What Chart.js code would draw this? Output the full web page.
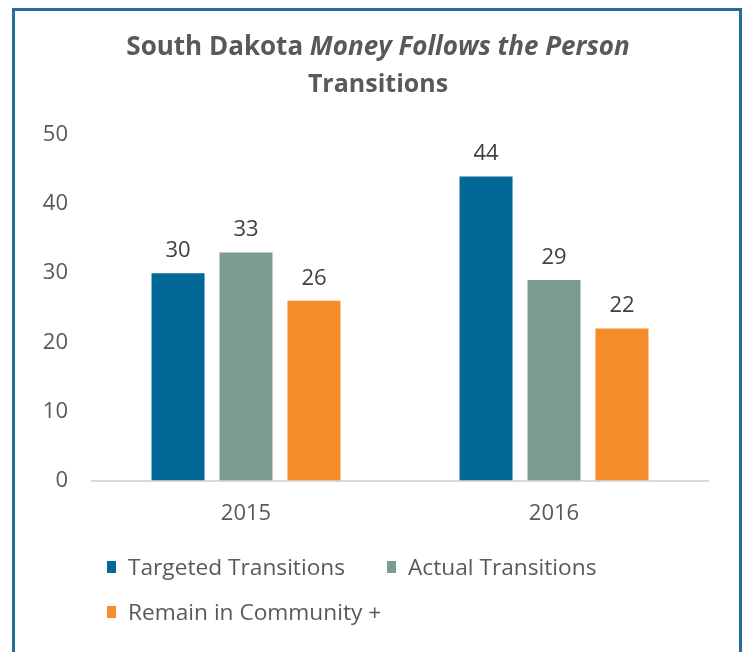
<!DOCTYPE html>
<html>
<head>
<meta charset="utf-8">
<script src="https://cdn.jsdelivr.net/npm/chart.js@4.4.0/dist/chart.umd.min.js"></script>
<style>
  html, body { margin: 0; padding: 0; background: #fff; overflow: hidden; }
  #wrap { position: relative; width: 746px; height: 652px; }
  #frame {
    position: absolute; left: 12px; top: 8px; width: 724px; height: 700px;
    border: 3px solid #236e9c; border-bottom: none;
  }
  canvas { position: absolute; left: 0; top: 0; }
  #legend { position: absolute; left: 0; top: 0; font-family: "Open Sans", sans-serif; font-size: 22.7px; color: #595959; }
  .item { position: absolute; white-space: nowrap; line-height: 26px; }
  .item span.box { position: absolute; left: 0; top: 7px; width: 9px; height: 12px; }
  .item span.txt { position: absolute; left: 21px; top: 0; }
</style>
</head>
<body>
<div id="wrap">
  <div id="frame"></div>
  <canvas id="chart" width="746" height="652"></canvas>
  <div id="legend"></div>
</div>
<script>
// data
const years = ['2015', '2016'];
const seriesNames = ['Targeted Transitions', 'Actual Transitions', 'Remain in Community +'];
const targeted = [30, 44];
const actual = [33, 29];
const remain = [26, 22];
const colors = ['#026897', '#7c9c91', '#f68d2b'];

const FONT = '"Open Sans", sans-serif';

// title with a mixed bold / bold-italic line
const titlePlugin = {
  id: 'mixedTitle',
  afterDraw(chart) {
    const ctx = chart.ctx;
    ctx.save();
    ctx.fillStyle = '#595959';
    ctx.textBaseline = 'middle';
    const parts = [
      ['bold 26px ' + FONT, 'South Dakota '],
      ['italic bold 26px ' + FONT, 'Money Follows the Person']
    ];
    let total = 0;
    parts.forEach(p => { ctx.font = p[0]; total += ctx.measureText(p[1]).width; });
    let x = 378 - total / 2;
    parts.forEach(p => {
      ctx.font = p[0];
      ctx.textAlign = 'left';
      ctx.fillText(p[1], x, 48);
      x += ctx.measureText(p[1]).width;
    });
    ctx.font = 'bold 25px ' + FONT;
    ctx.textAlign = 'center';
    ctx.fillText('Transitions', 378, 85);
    ctx.restore();
  }
};

// value labels above each bar
const valueLabels = {
  id: 'valueLabels',
  afterDatasetsDraw(chart) {
    const ctx = chart.ctx;
    ctx.save();
    ctx.font = '22px ' + FONT;
    ctx.fillStyle = '#404040';
    ctx.textAlign = 'center';
    ctx.textBaseline = 'alphabetic';
    chart.data.datasets.forEach((ds, i) => {
      chart.getDatasetMeta(i).data.forEach((bar, j) => {
        ctx.fillText(String(ds.data[j]), bar.x, bar.y - 16);
      });
    });
    ctx.restore();
  }
};

const chart = new Chart(document.getElementById('chart'), {
  type: 'bar',
  data: {
    labels: years,
    datasets: [
      { label: seriesNames[0], data: targeted, backgroundColor: colors[0] },
      { label: seriesNames[1], data: actual, backgroundColor: colors[1] },
      { label: seriesNames[2], data: remain, backgroundColor: colors[2] }
    ]
  },
  options: {
    responsive: false,
    animation: false,
    layout: { padding: { top: 135, left: 0, right: 38, bottom: 111.5 } },
    datasets: { bar: { categoryPercentage: 0.662, barPercentage: 0.78 } },
    plugins: {
      legend: { display: false },
      title: { display: false },
      tooltip: { enabled: false }
    },
    scales: {
      x: {
        grid: { display: false, drawTicks: false },
        border: { display: true, color: '#d9d9d9', width: 2 },
        ticks: { color: '#595959', font: { family: FONT, size: 22 }, padding: 20 },
        afterFit: s => { s.height = 60; }
      },
      y: {
        min: 0,
        max: 50,
        grid: { display: false, drawTicks: false },
        border: { display: false },
        ticks: { stepSize: 10, color: '#595959', font: { family: FONT, size: 22 }, padding: 24 },
        afterFit: s => { s.width = 92; }
      }
    }
  },
  plugins: [titlePlugin, valueLabels]
});

// legend laid out like the original: two items on the first row, one below
const legendSpots = [[107, 554], [387, 554], [107, 599]];
const legend = document.getElementById('legend');
chart.data.datasets.forEach((ds, i) => {
  const item = document.createElement('div');
  item.className = 'item';
  item.style.left = legendSpots[i][0] + 'px';
  item.style.top = legendSpots[i][1] + 'px';
  const box = document.createElement('span');
  box.className = 'box';
  box.style.background = ds.backgroundColor;
  const txt = document.createElement('span');
  txt.className = 'txt';
  txt.textContent = ds.label;
  item.appendChild(box);
  item.appendChild(txt);
  legend.appendChild(item);
});
</script>
</body>
</html>
